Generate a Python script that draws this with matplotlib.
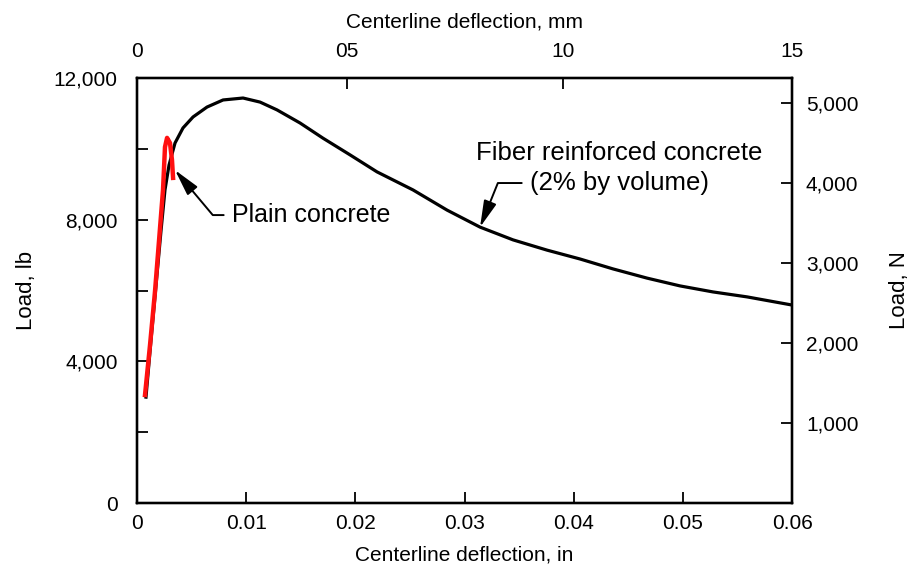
import matplotlib.pyplot as plt

plt.rcParams['font.family'] = ['Liberation Sans', 'DejaVu Sans']

# fiber reinforced concrete (2% by volume): deflection (in), load (lb)
fiber_defl = [0.00082, 0.00128, 0.00174, 0.0022, 0.00256, 0.00293, 0.00348, 0.00421,
              0.00513, 0.00641, 0.00788, 0.00971, 0.01127, 0.01282, 0.01493, 0.01704,
              0.01951, 0.02198, 0.02528, 0.0284, 0.03142, 0.03444, 0.03756, 0.04058,
              0.0436, 0.04672, 0.04974, 0.05276, 0.05588, 0.06]
fiber_load = [2990, 4600, 6150, 7700, 8840, 9540, 10165, 10590,
              10900, 11180, 11380, 11435, 11320, 11100, 10730, 10300,
              9830, 9350, 8840, 8270, 7790, 7430, 7140, 6890,
              6610, 6350, 6130, 5960, 5820, 5590]

# plain concrete
plain_defl = [0.00073, 0.00119, 0.00165, 0.00202, 0.00238, 0.00256, 0.00275, 0.00302, 0.0032, 0.0033]
plain_load = [3050, 4460, 5990, 7430, 8840, 10050, 10310, 10165, 9690, 9180]

# axes ticks
x_ticks = [0, 0.01, 0.02, 0.03, 0.04, 0.05, 0.06]
x_labels = ['0', '0.01', '0.02', '0.03', '0.04', '0.05', '0.06']
y_ticks = [0, 2000, 4000, 6000, 8000, 10000, 12000]
y_labels = ['0', '', '4,000', '', '8,000', '', '12,000']
mm_pos = [0, 0.0192, 0.039, 0.06]   # where the mm ticks sit on the inch scale
mm_labels = ['0', '05', '10', '15']
n_ticks = [1000, 2000, 3000, 4000, 5000]
n_labels = ['1,000', '2,000', '3,000', '4,000', '5,000']
n_top = 5312   # N value at the top of the lb axis (as drawn)

fig = plt.figure(figsize=(9.16, 5.77), dpi=100)
ax = fig.add_axes([0.1496, 0.1282, 0.7151, 0.7366])

ax.plot(fiber_defl, fiber_load, color='black', lw=2.3, zorder=2)
ax.plot(plain_defl, plain_load, color='#ff1010', lw=3.2, zorder=3)

ax.set_xlim(0, 0.06)
ax.set_ylim(0, 12000)
ax.set_xticks(x_ticks)
ax.set_xticklabels(x_labels)
ax.set_yticks(y_ticks)
ax.set_yticklabels(y_labels)
ax.tick_params(direction='in', length=8, width=1.3, labelsize=15, pad=8)
ax.tick_params(axis='y', pad=14)
ax.set_xlabel('Centerline deflection, in', fontsize=15, labelpad=9)
ax.set_ylabel('Load, lb', fontsize=16, labelpad=12)

# top axis in mm
axt = ax.twiny()
axt.set_xlim(ax.get_xlim())
axt.set_xticks(mm_pos)
axt.set_xticklabels(mm_labels)
axt.tick_params(direction='in', length=8, width=1.3, labelsize=15, pad=12)
axt.set_xlabel('Centerline deflection, mm', fontsize=15, labelpad=11)

# right axis in N
axr = ax.twinx()
axr.set_ylim(0, n_top)
axr.set_yticks(n_ticks)
axr.set_yticklabels(n_labels)
axr.tick_params(direction='in', length=8, width=1.3, labelsize=15, pad=10)
axr.set_ylabel('Load, N', fontsize=16, labelpad=22)

for a in (ax, axt, axr):
    for s in a.spines.values():
        s.set_linewidth(1.6)

arrow = dict(arrowstyle='-|>,head_length=0.9,head_width=0.22', color='black', lw=1.4,
             mutation_scale=18, shrinkA=4, shrinkB=0)

ax.annotate('Plain concrete', xy=(0.00348, 9400), xytext=(0.0087, 8130),
            ha='left', va='center', fontsize=18,
            arrowprops=dict(arrow, connectionstyle='angle,angleA=0,angleB=-50,rad=0'))

ax.text(0.0442, 9880, 'Fiber reinforced concrete', ha='center', va='center', fontsize=18.5)
ax.annotate('(2% by volume)', xy=(0.03142, 7790), xytext=(0.036, 9035),
            ha='left', va='center', fontsize=18.5,
            arrowprops=dict(arrow, connectionstyle='angle,angleA=0,angleB=68,rad=0'))

fig.savefig('out.png', dpi=100)
